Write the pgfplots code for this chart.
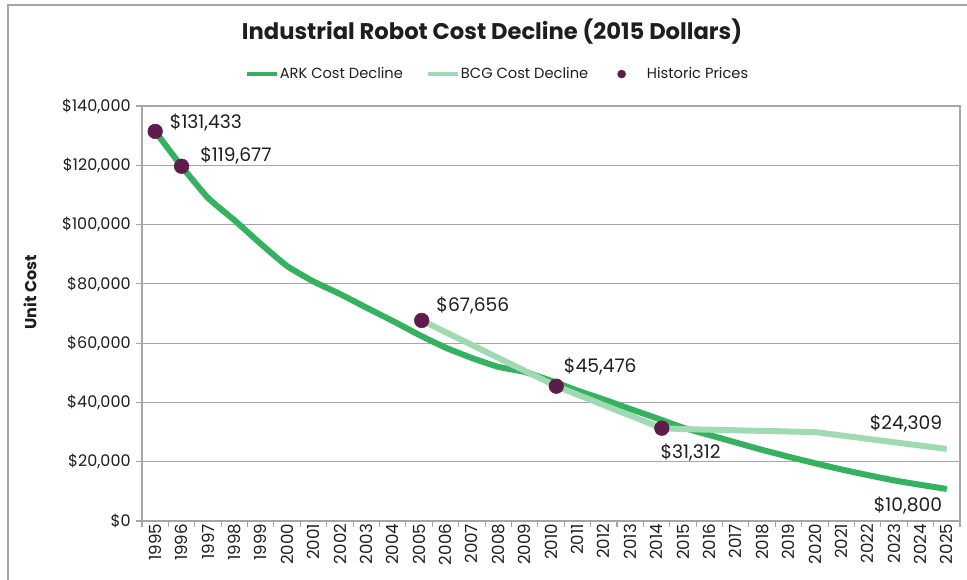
\documentclass[border=0pt]{standalone}
\usepackage{pgfplots}
\pgfplotsset{compat=1.18}
\usepackage{fontspec}
\setmainfont{Poppins}

\definecolor{ark}{RGB}{52,178,95}
\definecolor{bcg}{RGB}{160,218,178}
\definecolor{hist}{RGB}{94,28,74}
\definecolor{gridc}{RGB}{166,166,166}
\definecolor{txt}{RGB}{30,30,30}

\begin{document}
\begin{tikzpicture}[font=\fontsize{10}{12}\selectfont, text=txt]
\begin{axis}[name=ax, scale only axis, width=613.5pt, height=311.25pt,
  xmin=-0.5, xmax=30.5, ymin=0, ymax=140000,
  clip=false,
  scaled y ticks=false,
  axis line style={gridc, line width=0.8pt},
  xtick={0,...,30},
  xticklabels={1995,1996,1997,1998,1999,2000,2001,2002,2003,2004,2005,2006,2007,2008,2009,2010,2011,2012,2013,2014,2015,2016,2017,2018,2019,2020,2021,2022,2023,2024,2025},
  minor xtick={-0.5,0.5,...,30.5},
  ytick={0,20000,...,140000},
  minor ytick={0,20000,...,140000},
  major tick length=0pt, minor tick length=4.5pt,
  tick align=outside, tick pos=left,
  every tick/.style={gridc, line width=0.8pt},
  ymajorgrids, major grid style={gridc, line width=0.8pt},
  xticklabel style={rotate=90, anchor=east, font=\fontsize{12.5}{14}\selectfont, inner sep=1pt, xshift=-1pt},
  yticklabel style={font=\fontsize{12}{14}\selectfont, xshift=-5pt},
  yticklabel={\$\pgfmathprintnumber{\tick}},
  /pgf/number format/.cd, fixed, 1000 sep={,}, assume math mode=true,
  /pgfplots/.cd,
  legend columns=3,
  legend style={draw=none, fill=none, at={(axis description cs:0.434,1.077)}, anchor=center,
    font=\fontsize{11}{13}\selectfont, /tikz/every even column/.append style={column sep=17pt},
    nodes={inner xsep=0.5pt}},
  legend image code/.code={\draw[#1, line width=3pt] (0pt,0pt) -- (22.5pt,0pt);},
]
\addplot[ark, line width=4.5pt, smooth, tension=0.3] coordinates {
(0,131433) (1,119677) (2,109000) (3,101500) (4,93500) (5,86000) (6,80800)
(7,76600) (8,72000) (9,67500) (10,62800) (11,58500) (12,55000) (13,52000)
(14,50300) (15,47300) (16,44000) (17,41000) (18,37800) (19,34700) (20,31500)
(21,29000) (22,26500) (23,24000) (24,21700) (25,19500) (26,17400) (27,15500)
(28,13700) (29,12200) (30,10800)};
\addlegendentry{ARK Cost Decline}
\addplot[bcg, line width=4.5pt] coordinates {
(10.1,67656) (15.2,45476) (19.2,31312) (20,31000) (25,30000) (30,24309)};
\addlegendentry{BCG Cost Decline}
\addplot[only marks, mark=*, mark size=5.5pt, color=hist,
  legend image code/.code={\path[draw=none, fill=none] (0pt,0pt) -- (26pt,0pt); \fill[hist] (7.5pt,0pt) circle (3pt);}] coordinates {
(0,131433) (1,119677) (10.1,67656) (15.2,45476) (19.2,31312)};
\addlegendentry{Historic Prices}

\begin{scope}[every node/.style={font=\fontsize{14}{16}\selectfont}]
\node[anchor=west, xshift=7.5pt, yshift=6.75pt] at (axis cs:0,131433) {\$131,433};
\node[anchor=west, xshift=10.5pt, yshift=8.25pt] at (axis cs:1,119677) {\$119,677};
\node[anchor=west, xshift=7.5pt, yshift=11.25pt] at (axis cs:10.1,67656) {\$67,656};
\node[anchor=west, xshift=2.25pt, yshift=15pt] at (axis cs:15.2,45476) {\$45,476};
\node[anchor=west, xshift=-4.5pt, yshift=-18pt] at (axis cs:19.2,31312) {\$31,312};
\node[anchor=east, xshift=0pt, yshift=18.75pt] at (axis cs:30,24309) {\$24,309};
\node[anchor=east, xshift=0pt, yshift=-12pt] at (axis cs:30,10800) {\$10,800};
\end{scope}
\end{axis}
\node[font=\fontsize{17}{19}\selectfont\bfseries] at ([xshift=262.5pt, yshift=366.75pt]ax.south west) {Industrial Robot Cost Decline (2015 Dollars)};
\node[rotate=90, font=\fontsize{12}{14}\selectfont\bfseries] at ([xshift=-84pt, yshift=16pt]ax.west) {Unit Cost};
\draw[gridc, line width=1pt] ([xshift=-100.5pt, yshift=75.75pt]ax.north west) rectangle ([xshift=30pt, yshift=-70pt]ax.south east);
\pgfresetboundingbox
\path ([xshift=-106.5pt,yshift=-43.5pt]ax.south west) rectangle ([xshift=5.25pt,yshift=79.5pt]ax.north east);
\end{tikzpicture}
\end{document}
